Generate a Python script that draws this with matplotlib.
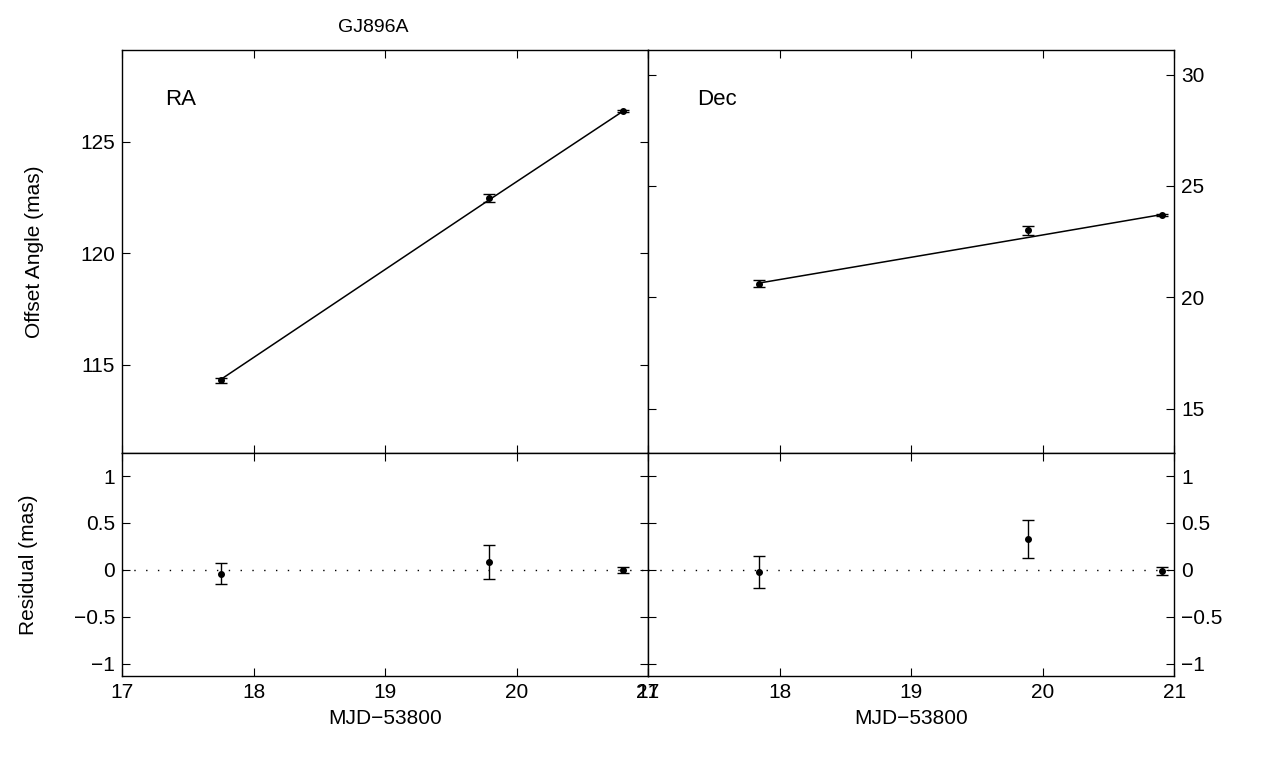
import numpy as np
import matplotlib
matplotlib.use("Agg")
import matplotlib.pyplot as plt

plt.rcParams.update({
    "font.family": "Liberation Sans",
    "font.size": 15,
    "xtick.direction": "in",
    "ytick.direction": "in",
    "xtick.top": True,
    "ytick.right": True,
    "axes.linewidth": 1.0,
})

# epochs (MJD-53800)
mjd_ra = [17.75, 19.79, 20.81]
mjd_dec = [17.84, 19.89, 20.91]

# RA offsets (mas)
ra = [114.3, 122.47, 126.36]
ra_err = [0.1, 0.18, 0.05]
ra_fit = [114.34, 122.38, 126.36]
ra_res = [-0.04, 0.085, 0.0]
ra_res_err = [0.11, 0.18, 0.03]

# Dec offsets (mas)
dec = [20.62, 23.02, 23.71]
dec_err = [0.17, 0.2, 0.04]
dec_fit = [20.64, 22.69, 23.72]
dec_res = [-0.02, 0.33, -0.01]
dec_res_err = [0.17, 0.2, 0.04]

xticks = [17, 18, 19, 20, 21]

fig = plt.figure(figsize=(12.63, 7.62), dpi=100)
L, W = 0.0966, 0.4165
top_b, top_h = 0.4055, 0.5289
bot_b, bot_h = 0.1129, 0.2926
ax = []
ax.append(fig.add_axes([L, top_b, W, top_h]))
ax.append(fig.add_axes([L + W, top_b, W, top_h]))
ax.append(fig.add_axes([L, bot_b, W, bot_h]))
ax.append(fig.add_axes([L + W, bot_b, W, bot_h]))

kw = dict(fmt='o', color='black', markersize=4, capsize=4, elinewidth=1.0, capthick=1.0)

ax[0].plot(mjd_ra, ra_fit, color='black', linewidth=1.1)
ax[0].errorbar(mjd_ra, ra, yerr=ra_err, **kw)
ax[0].set_ylim(111.05, 129.1)
ax[0].set_yticks([115, 120, 125])
ax[0].set_ylabel('Offset Angle (mas)', labelpad=26)
ax[0].text(0.082, 0.863, 'RA', transform=ax[0].transAxes, fontsize=16)
ax[0].text(0.477, 1.035, 'GJ896A', transform=ax[0].transAxes, fontsize=14, ha='center', va='bottom')

ax[1].plot(mjd_dec, dec_fit, color='black', linewidth=1.1)
ax[1].errorbar(mjd_dec, dec, yerr=dec_err, **kw)
ax[1].set_ylim(13.02, 31.1)
ax[1].set_yticks([15, 20, 25, 30])
ax[1].tick_params(axis='y', left=True, right=True, labelleft=False, labelright=True)
ax[1].text(0.093, 0.863, 'Dec', transform=ax[1].transAxes, fontsize=16)

for a in ax[:2]:
    a.tick_params(axis='x', labelbottom=False)

ax[2].errorbar(mjd_ra, ra_res, yerr=ra_res_err, **kw)
ax[2].set_ylabel('Residual (mas)', labelpad=26)
ax[3].errorbar(mjd_dec, dec_res, yerr=dec_res_err, **kw)
ax[3].tick_params(axis='y', left=True, right=True, labelleft=False, labelright=True)

for a in ax[2:]:
    a.axhline(0, color='black', linestyle=(0, (1, 7.5)), linewidth=1.0)
    a.set_ylim(-1.13, 1.245)
    a.set_yticks([-1, -0.5, 0, 0.5, 1])
    a.set_yticklabels(['\u22121', '\u22120.5', '0', '0.5', '1'])
    a.set_xlabel('MJD\u221253800', labelpad=5)

for a in ax:
    a.set_xlim(17, 21)
    a.set_xticks(xticks)
    a.tick_params(length=6, pad=5)

plt.savefig('out.png', dpi=100)
